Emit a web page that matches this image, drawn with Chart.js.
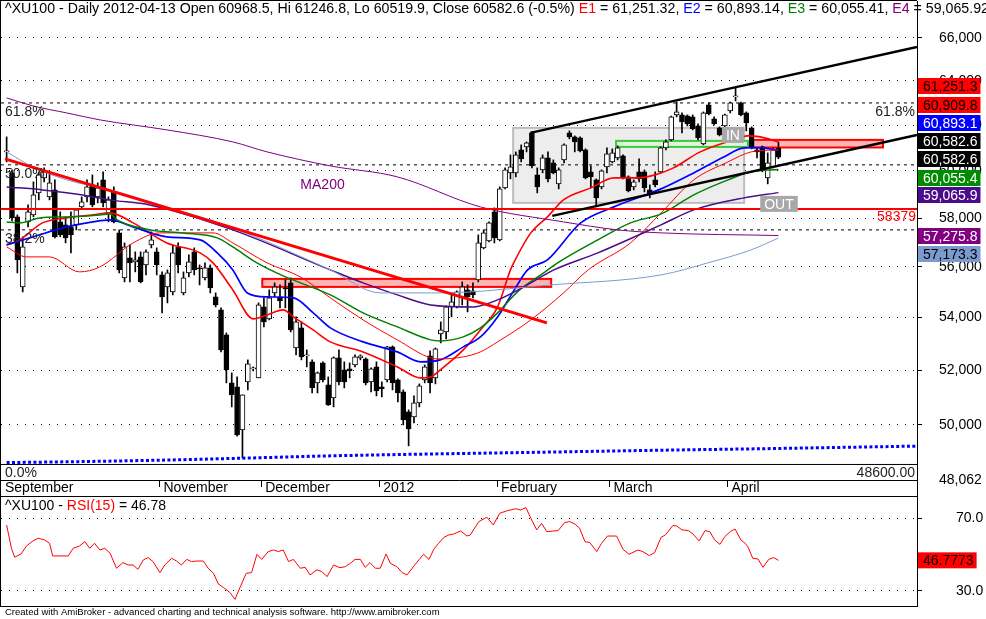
<!DOCTYPE html>
<html><head><meta charset="utf-8">
<script src="https://cdn.jsdelivr.net/npm/chart.js@4.4.1/dist/chart.umd.min.js"></script>
<style>
html,body{margin:0;padding:0;background:#fff;}
#wrap{position:relative;width:986px;height:619px;overflow:hidden;background:#fff;}
#c1{position:absolute;left:0;top:0;}
#c2{position:absolute;left:0;top:497px;}
</style></head><body>
<div id="wrap"><canvas id="c1" width="986" height="497"></canvas><canvas id="c2" width="986" height="122"></canvas></div>
<script>
// ---------------- DATA ----------------
const months = ['September','October','November','December','2012','February','March','April'];
const barsPerMonth = [8,21,19,22,22,21,22,10];

const open = [60817,59908,58047,55203,57839,58130,59055,59694,58886,59182,
57839,57714,57632,57714,58464,58886,59394,58886,59608,58213,
59097,57384,55561,56364,56202,56405,56081,56892,56607,55680,
55203,55005,56810,54966,55761,56607,55961,55561,55961,54808,
54300,53335,51530,51382,49821,51567,52050,51714,54417,53950,
54966,54808,55163,55362,52840,53603,52537,52312,51530,52274,
51456,50979,52462,52012,52050,52199,52462,52424,51567,52124,
51382,51640,52878,51640,51197,50469,50288,50796,51640,52537,
51714,53373,53450,54417,54417,54769,55084,55045,55481,56770,
57055,58255,57096,59267,59908,59908,60904,61035,61652,59822,
60037,60556,60339,59437,60469,61652,61475,61431,60904,59951,
59608,59309,60166,60382,60556,60643,59737,59309,59951,59951,
59182,59608,59951,60992,61343,62453,62453,62408,62363,61962,
61167,62902,62274,61873,61962,62632,63264,62992,62542,61873,
60904,61035,59694,60166,60968.5];
const high = [61475,60037,58130,57220,58548,59522,59951,60123,59951,59608,
58255,58047,58255,58380,58886,59608,59822,59480,59951,58886,
59309,57508,56973,56892,56607,56607,56688,57426,56770,55801,
55881,56892,56973,55801,56485,56770,56081,56162,56081,54966,
54378,53411,51901,51751,51088,52387,52125,54573,54769,55084,
55362,55282,55481,55561,54027,53834,52764,52387,51938,52312,
51751,52500,52764,52312,52274,52575,52575,52462,52087,52312,
51567,52900,52916,51680,51271,50541,51051,51493,52199,52726,
52840,53834,54456,54887,55045,55402,55282,55362,57302,57508,
57839,58423,59309,60123,60686,60817,61123,61255,61700,60123,
60686,60817,60469,60123,61167,61740,61519,61475,60950,60209,
59651,60037,60992,60948,61079,60686,59780,59608,60512,60037,
59394,59951,61035,61343,62400,63037,62542,62453,62453,62051,
62587,62992,62363,61917,62490,63030,63674,63030,62587,61917,
60992,61080,60773,60992,61246.8];
const low = [60382,57880,55760,55005,57632,58047,58759,59522,58759,57180,
57220,56973,56566,57508,58423,58674,58464,58633,58464,57839,
57797,55760,55402,55402,55801,55362,55680,56770,55680,54183,
54573,54887,55760,54887,55600,55680,55282,55481,54966,54417,
52689,51530,50650,49600,48830,51271,51975,51714,53641,53912,
54808,54378,54378,53450,52575,52387,52124,51160,51160,51567,
50700,50650,51456,51345,51714,52124,52387,51456,51197,51051,
51015,51567,51271,50832,50000,49253,50072,50650,51530,51160,
51493,53030,53182,54027,54378,54495,54222,54769,55402,56729,
57014,56973,57055,59224,59651,59737,60382,60817,60123,59055,
59908,59522,59865,59224,60339,61387,60817,60817,59651,59267,
58464,59224,59908,60339,60469,59651,59097,59182,59522,59097,
58844,59309,59900,60904,61299,62363,61652,61962,61785,61343,
61123,62453,62007,61519,61917,62542,63083,62408,61740,60948,
60556,59951,59437,60123,60519.9];
const close = [60860,58005,56283,56810,58255,58970,59822,59951,59480,57220,
57302,57180,57302,58339,58674,59309,58548,59267,58633,58759,
57839,55881,56810,56162,56283,55402,56607,57096,56081,54808,
55761,56566,56081,55561,56202,55881,55921,55961,55163,54495,
52764,52012,51088,49643,51088,52237,52087,54495,53834,54769,
55203,54652,55123,53526,53834,52500,52575,51345,51901,51640,
50722,52462,51567,51567,51975,52500,52537,51530,52050,51234,
51308,52878,51530,51160,50180,49857,50796,51419,52124,51530,
52802,53526,54417,54613,55005,55203,54808,54887,56973,57384,
57797,57180,59224,60037,60166,60686,60512,61211,60209,59309,
60556,59651,59908,60037,61123,61475,61255,60860,59694,59737,
58844,59994,60730,60773,60992,59694,59140,59522,59651,59267,
59055,59394,60992,61255,62363,62587,62140,62051,61829,61431,
62542,62498,62051,61563,62453,62992,63310,62453,62095,60992,
60817,59994,60339,60904,60582.6];

// moving averages: bar index where read, value
const e1Idx = [0,2.4,6.7,11.2,16.1,19.3,23.6,29.9,36.1,38.5,42.2,46,48.6,51.6,53.5,57.2,60.4,66.5,72.9,77.2,79.1,80.9,85.2,88.4,91.6,94,94.6,97.8,100.9,103.9,109,113.3,117.8,121,124.4,129.4,135.6,138.2,140.6,144];
const e1Val = [56892,57096,57797,58005,58130,58213,57797,56973,56566,56162,55084,53950,54105,54300,54027,53526,53068,52689,52124,51714,51751,52012,52764,53526,54417,55881,56162,57384,58047,58759,59267,59694,59694,59822,60123,60817,61343,61519,61475,61251.32];
const e2Idx = [0,4.9,11.2,16.1,19.3,23.6,29.9,36.1,39.3,42.2,44.9,48.6,53.5,57.2,60.4,66.5,72.9,77.2,80.9,85.2,88.4,91.6,94.6,97.2,100.9,107.1,113.3,122.1,128.2,133.8,137.6,140,144];
const e2Val = [56892,57220,57632,57839,57922,57632,57220,57096,56566,55881,54966,54808,54769,54183,53603,53068,52689,52312,52387,52878,53259,54027,55045,55881,56283,57797,58464,59224,59908,60599,60992,61000,60893.14];
const e3Idx = [0,2.4,6.2,11.2,17.4,19.3,20.6,26.7,32.9,39.3,42.2,46.7,51.6,60.4,66.5,72.9,79.1,80.9,85.2,88.4,91.6,95.3,100.2,102.8,110.3,116.4,122.1,128.2,134.6,138.9,144];
const e3Val = [57839,57797,58005,58047,58130,58172,57922,57508,57384,57180,56810,56162,55640,54887,54183,53641,53144,53106,53259,53603,54183,55005,55761,56162,57096,57797,58172,58970,59608,59951,60055.41];
const e4Idx = [0,6.7,14.2,19.3,26.7,42.2,60.4,66.5,72.9,79.1,87.1,91.6,97.8,102.1,110.3,122.1,128.2,137.6,144];
const e4Val = [59309,59182,58970,58759,58548,57508,55881,55362,54887,54495,54417,54691,55362,55881,56566,57714,58339,58844,59065.92];
const ma200Idx = [0,4.9,11.2,17.4,29.9,42.2,48.6,60.4,72.9,88.4,103.9,114,122.1,144];
const ma200Val = [63219,62857,62542,62229,61785,61255,60817,60209,59737,58464,57839,57508,57384,57275.8];
const slowIdx = [0,4.9,11.2,19.3,29.9,41.7,60.4,69.7,80.9,101.5,122.1,130.8,138.9,144];
const slowVal = [60817,60166,59608,59182,58464,57632,55881,54966,54966,55282,55680,56162,56688,57173.3];
const lagIdx = [0,3.7,8,13.6,17.4,23.6,28.6,32.9,38.5,42.2,48.6,54.8,60.4,66.5,72.9,79.1,80.9,85.2,88.4,91.6,97.8,103.9,108.5,116.4,122.1,128.2,134.6,138.9,144];
const lagVal = [56810,56405,56405,55801,56000,56973,57384,57384,57384,56973,56162,55600,54769,53912,53144,52462,52424,52500,52689,53068,53912,54966,55881,56973,58213,59608,60382,60817,60909.8];
const dotIdx = [0,10,20,31,44,60,80,100,122,140,169.8];
const dotVal = [48666,48690,48720,48760,48820,48900,48970,49030,49100,49150,49245];

// drawn studies
const fibLabels = ['61.8%','50.0%','38.2%','0.0%'];
const fibValues = [62990,60254,57508,48600];
const fibRightText = ['61.8%','','','48600.00'];
const supportValue = 58379;
const downTrendIdx = [-0.3,100.8];
const downTrendVal = [60512,53795];
const chanUpIdx = [97.7,169.85];
const chanUpVal = [61652,65576];
const chanLowIdx = [101.8,169.85];
const chanLowVal = [58088,61563];

const priceTicks = [48062,50000,52000,54000,56000,58000,60000,62000,64000,66000];

// RSI(15)
const rsiIdx = [0,0.9,1.5,2.7,3.7,4.9,5.9,7.1,8.0,8.6,11.5,12.4,13.6,14.6,15.5,16.4,17.4,18.3,19.3,20.5,21.7,22.7,23.6,24.5,25.5,26.4,27.3,28.6,29.5,30.8,31.7,32.6,33.6,34.5,35.5,36.7,37.6,38.6,39.5,40.4,41.7,42.6,43.6,44.7,45.7,46.7,47.6,48.8,49.8,50.7,51.6,52.6,53.5,54.8,55.7,56.6,57.9,58.8,59.8,61.0,62.2,63.2,64.1,65.0,66.0,66.9,67.8,68.8,69.7,70.8,71.6,72.8,73.8,74.7,76.0,76.9,77.8,78.8,79.7,80.6,81.6,82.5,83.4,84.7,85.9,86.5,88.1,89.6,90.8,92.0,93.4,95.0,95.9,96.9,97.8,98.9,99.8,100.8,102.1,102.9,104.1,105.0,106.0,106.9,107.9,108.8,110.1,111.0,112.1,113.8,115.0,116.1,117.8,118.7,119.9,120.9,122.1,122.9,124.3,125.0,126.0,127.2,128.1,129.2,130.3,131.2,132.1,133.1,134.0,135.0,135.9,137.0,137.8,138.3,139.2,140.2,141.1,142.2,143.1,144];
const rsiVal = [66.3,53.4,48.5,50.3,54.7,57.5,59.0,58.0,56.2,49.2,49.2,53.4,54.7,57.1,53.4,56.2,52.5,53.4,50.7,42.4,45.5,44.2,44.2,41.8,47.0,48.3,46.1,40.0,44.2,47.9,46.4,44.2,47.3,46.1,46.4,46.4,42.4,39.6,33.7,31.9,28.9,25.2,32.2,39.6,40.0,50.1,47.3,51.6,52.5,51.6,52.5,46.1,47.3,42.4,42.9,38.7,41.5,40.5,37.8,44.2,42.7,43.3,45.1,47.3,47.3,42.9,45.5,42.4,42.4,50.3,45.1,43.3,40.0,38.7,43.7,47.0,50.1,47.3,52.9,56.2,59.5,60.8,61.3,63.0,60.2,60.8,68.2,70.6,66.3,72.8,74.2,75.3,74.6,75.9,70.0,63.6,67.2,62.6,63.0,63.2,67.6,68.2,66.9,64.5,57.1,56.6,51.6,56.2,60.2,60.2,52.9,50.1,52.5,51.6,49.4,51.0,59.5,60.8,66.0,65.8,63.6,63.2,61.2,57.5,63.2,62.6,58.0,55.6,59.9,62.6,64.1,58.0,56.2,54.3,47.9,47.5,42.9,47.3,48.3,46.7773];
const rsiTicks = [30,70];

// ---------------- LAYOUT / STYLE ----------------
const X_MIN = -1.05, X_MAX = 169.85;
const FONT = 'Arial, "Liberation Sans", sans-serif';
Chart.defaults.font.family = FONT;
Chart.defaults.font.size = 14;
Chart.defaults.color = '#000';
Chart.defaults.animation = false;

const C = {red:'#ff0000', blue:'#0000ff', green:'#008c00', e4:'#4b0c8c', ma200:'#800080', slow:'#7b9bcf'};

const pts = (xs, vs) => xs.map((x, k) => ({x, y: vs[k]}));
const idx = close.map((_, i) => i);

// month ticks (first bar of month, hide labels that would collide)
const monthTicks = [];
{
  let start = 0, lastKept = -100;
  months.forEach((m, k) => {
    if (start - lastKept >= 12) {
      monthTicks.push({value: k === 0 ? X_MIN : start - 0.5, label: m, first: k === 0});
      lastKept = start;
    }
    start += barsPerMonth[k];
  });
}

const lineDs = (xs, vs, color, width, extra = {}) => Object.assign({
  type: 'line', data: pts(xs, vs), borderColor: color, borderWidth: width,
  pointRadius: 0, fill: false, cubicInterpolationMode: 'monotone', order: 10
}, extra);

const datasets = [
  {type:'bar', data: idx.map(i => ({x:i, y:[low[i], high[i]]})), backgroundColor:'#000',
   barThickness:1, grouped:false, borderWidth:0, borderSkipped:false, order:21},
  {type:'bar', data: idx.map(i => ({x:i, y:[open[i], close[i]]})),
   backgroundColor: idx.map(i => close[i] >= open[i] ? '#fff' : '#000'),
   borderColor:'#000', borderWidth:1, borderSkipped:false, barThickness:5, minBarLength:1,
   grouped:false, order:20},
  ...fibValues.map((v, k) => lineDs([X_MIN, X_MAX], [v, v], '#000', 1,
      {borderDash: fibLabels[k] === '0.0%' ? [] : [3,4], order: 22})),
  lineDs(dotIdx, dotVal, C.blue, 3, {borderDash:[3,2.36], order: 15}),
  lineDs(slowIdx, slowVal, C.slow, 1),
  lineDs(ma200Idx, ma200Val, C.ma200, 1),
  lineDs(e4Idx, e4Val, C.e4, 1.5),
  lineDs(e3Idx, e3Val, '#008000', 1.5),
  lineDs(lagIdx, lagVal, C.red, 1),
  lineDs(e2Idx, e2Val, C.blue, 1.7),
  lineDs(e1Idx, e1Val, C.red, 1.6),
  lineDs([X_MIN, X_MAX], [supportValue, supportValue], C.red, 2, {order: 3}),
  lineDs(downTrendIdx, downTrendVal, C.red, 3, {order: 2}),
  lineDs(chanUpIdx, chanUpVal, '#000', 2.5, {order: 2}),
  lineDs(chanLowIdx, chanLowVal, '#000', 2.5, {order: 2}),
];

// annotation boxes (data coordinates)
const grayBox  = {from: 94.5, to: 137.6, top: 61873, bottom: 58633};
const greenBox = {from: 113.7, to: 138.3, top: 61299, bottom: 61035};
const redBoxA  = {from: 47.7, to: 101.6, top: 55521, bottom: 55203};
const redBoxB  = {from: 139.1, to: 163.5, top: 61343, bottom: 61010};
const inTag  = {x: 135.5, v: 61563, text: 'IN'};
const outTag = {x: 144.1, v: 58590, text: 'OUT'};
const maText = {x: 54.8, v: 59394, text: 'MA200'};

const titleParts = [
  ['^XU100 - Daily 2012-04-13 Open 60968.5, Hi 61246.8, Lo 60519.9, Close 60582.6 (-0.5%) ', '#000'],
  ['E1', C.red], [' = 61,251.32, ', '#000'], ['E2', C.blue], [' = 60,893.14, ', '#000'],
  ['E3', '#008000'], [' = 60,055.41, ', '#000'], ['E4', '#800080'], [' = 59,065.92', '#000']
];

const fmt1 = v => v.toLocaleString('en-US', {minimumFractionDigits:1, maximumFractionDigits:1});
const lastOf = a => a[a.length - 1];
const tags = [
  {v: lastOf(e1Val), bg: C.red, fg: '#000'},
  {v: lastOf(lagVal), bg: C.red, fg: '#000'},
  {v: lastOf(e2Val), bg: C.blue, fg: '#fff'},
  {v: lastOf(close), bg: '#000', fg: '#fff'},
  {v: lastOf(close), bg: '#000', fg: '#fff'},
  {v: lastOf(e3Val), bg: C.green, fg: '#fff'},
  {v: lastOf(e4Val), bg: C.e4, fg: '#fff'},
  {v: lastOf(ma200Val), bg: C.ma200, fg: '#fff'},
  {v: lastOf(slowVal), bg: C.slow, fg: '#000'},
];
const tagSlotY = [86,105,123,141,159,178,195,236,254];

function hline(ctx, x0, x1, y, color = '#000', w = 1) {
  ctx.save(); ctx.strokeStyle = color; ctx.lineWidth = w; ctx.beginPath();
  ctx.moveTo(x0, y); ctx.lineTo(x1, y); ctx.stroke(); ctx.restore();
}
function vline(ctx, x, y0, y1, color = '#000', w = 1) {
  ctx.save(); ctx.strokeStyle = color; ctx.lineWidth = w; ctx.beginPath();
  ctx.moveTo(x, y0); ctx.lineTo(x, y1); ctx.stroke(); ctx.restore();
}
function tagBox(ctx, x, yc, text, bg, fg) {
  ctx.save();
  ctx.font = '14px ' + FONT;
  const tw = ctx.measureText(text).width;
  ctx.fillStyle = bg; ctx.fillRect(x, yc - 8, tw + 8, 16);
  ctx.fillStyle = fg; ctx.textBaseline = 'middle'; ctx.textAlign = 'left';
  ctx.fillText(text, x + 5, yc + 1);
  ctx.restore();
}

const mainDecor = {
  id: 'mainDecor',
  beforeDatasetsDraw(chart) {
    const {ctx, scales: {x, y}} = chart;
    const box = (b, fill, stroke, lw) => {
      const x0 = x.getPixelForValue(b.from), x1 = x.getPixelForValue(b.to);
      const y0 = y.getPixelForValue(b.top), y1 = y.getPixelForValue(b.bottom);
      ctx.save();
      ctx.fillStyle = fill; ctx.fillRect(x0, y0, x1 - x0, y1 - y0);
      ctx.lineWidth = lw; ctx.strokeStyle = stroke; ctx.strokeRect(x0, y0, x1 - x0, y1 - y0);
      ctx.restore();
    };
    box(grayBox, '#ededed', '#bdbdbd', 2);
    box(greenBox, '#e2f4da', '#3cc83c', 2);
    box(redBoxA, '#ffb4b4', C.red, 2);
    box(redBoxB, '#ffb4b4', C.red, 2);
  },
  afterDatasetsDraw(chart) {
    const {ctx, scales: {x, y}, chartArea: a} = chart;
    ctx.save();
    ctx.font = '14px ' + FONT;
    ctx.textBaseline = 'middle';
    fibValues.forEach((v, k) => {
      const py = y.getPixelForValue(v) + 9;
      ctx.fillStyle = '#222'; ctx.textAlign = 'left';
      ctx.fillText(fibLabels[k], 5, py);
      if (fibRightText[k]) { ctx.textAlign = 'right'; ctx.fillText(fibRightText[k], a.right - 2, py); }
    });
    ctx.fillStyle = C.red; ctx.textAlign = 'right';
    ctx.fillText(String(supportValue), a.right - 1, y.getPixelForValue(supportValue) + 8);
    ctx.fillStyle = C.ma200; ctx.textAlign = 'left';
    ctx.fillText(maText.text, x.getPixelForValue(maText.x), y.getPixelForValue(maText.v));
    [inTag, outTag].forEach(t => {
      const tw = ctx.measureText(t.text).width;
      const cx = x.getPixelForValue(t.x), cy = y.getPixelForValue(t.v);
      ctx.fillStyle = '#a8a8a8'; ctx.fillRect(cx - tw / 2 - 4, cy - 8, tw + 8, 16);
      ctx.fillStyle = '#fff'; ctx.textAlign = 'center'; ctx.fillText(t.text, cx, cy + 1);
    });
    ctx.restore();
  },
  afterDraw(chart) {
    const {ctx, chartArea: a} = chart;
    hline(ctx, 0, a.right, 0.5);
    vline(ctx, 0.5, 0, 497);
    hline(ctx, 0, a.right + 1, 496.5);
    vline(ctx, a.right + 0.5, a.bottom, 497);
    ctx.save();
    ctx.font = '14.2px ' + FONT; ctx.textBaseline = 'middle'; ctx.textAlign = 'left';
    let tx = 5;
    titleParts.forEach(([s, c]) => { ctx.fillStyle = c; ctx.fillText(s, tx, 9); tx += ctx.measureText(s).width; });
    ctx.restore();
    tags.forEach((t, k) => tagBox(ctx, a.right + 1, tagSlotY[k], fmt1(t.v), t.bg, t.fg));
  }
};

new Chart(document.getElementById('c1'), {
  type: 'bar',
  data: {datasets},
  options: {
    responsive: false, animation: false, devicePixelRatio: 1,
    layout: {padding: {left: 1, top: 1, right: 2, bottom: 0}},
    plugins: {legend: {display: false}, tooltip: {enabled: false}},
    events: [],
    scales: {
      x: {
        type: 'linear', min: X_MIN, max: X_MAX, offset: false, position: 'bottom',
        afterBuildTicks: s => { s.ticks = monthTicks.map(t => ({value: t.value})); },
        afterFit: s => { s.height = 17; s.paddingLeft = 0; s.paddingRight = 0; },
        ticks: {autoSkip: false, maxRotation: 0, minRotation: 0, align: 'start', labelOffset: 4,
                padding: -7, font: {size: 14}, color: '#000',
                callback: (v, i) => monthTicks[i] ? monthTicks[i].label : ''},
        grid: {drawOnChartArea: false, drawTicks: true, tickLength: 7, offset: false,
               color: ctx => (monthTicks[ctx.index] && monthTicks[ctx.index].first) ? 'rgba(0,0,0,0)' : '#000'},
        border: {display: true, color: '#000', width: 1}
      },
      y: {
        type: 'logarithmic', position: 'right', min: 48062, max: 67770,
        afterBuildTicks: s => { s.ticks = priceTicks.map(v => ({value: v})); },
        afterFit: s => { s.width = 67; s.paddingTop = 0; s.paddingBottom = 0; },
        ticks: {autoSkip: false, padding: 17, crossAlign: 'near', font: {size: 14}, color: '#000',
                callback: v => Number(v).toLocaleString('en-US')},
        grid: {drawTicks: true, tickLength: 5, lineWidth: 1, tickBorderDash: [],
               color: ctx => (ctx.tick && ctx.tick.value === priceTicks[0]) ? 'rgba(0,0,0,0)' : '#000'},
        border: {display: true, color: '#000', width: 1, dash: [1,7]}
      }
    }
  },
  plugins: [mainDecor]
});

// ---------------- RSI panel ----------------
const rsiDecor = {
  id: 'rsiDecor',
  afterDraw(chart) {
    const {ctx, chartArea: a, scales: {y}} = chart;
    vline(ctx, 0.5, 0, a.bottom);
    hline(ctx, 0, a.right + 1, a.bottom + 0.5);
    ctx.save();
    ctx.font = '14px ' + FONT; ctx.textBaseline = 'middle'; ctx.textAlign = 'left';
    const last = lastOf(rsiVal);
    const parts = [['^XU100 - ', '#000'], ['RSI(15)', C.red], [' = ' + last.toFixed(2), '#000']];
    let tx = 5;
    parts.forEach(([s, c]) => { ctx.fillStyle = c; ctx.fillText(s, tx, 9); tx += ctx.measureText(s).width; });
    ctx.font = '9.5px ' + FONT; ctx.fillStyle = '#000';
    ctx.fillText('Created with AmiBroker - advanced charting and technical analysis software. http://www.amibroker.com', 5, 115);
    ctx.restore();
    tagBox(ctx, a.right + 1, y.getPixelForValue(last), last.toFixed(4), C.red, '#000');
  }
};

new Chart(document.getElementById('c2'), {
  type: 'line',
  data: {datasets: [{data: pts(rsiIdx, rsiVal), borderColor: C.red, borderWidth: 1, pointRadius: 0, fill: false, tension: 0}]},
  options: {
    responsive: false, animation: false, devicePixelRatio: 1,
    layout: {padding: {left: 1, top: 0, right: 2, bottom: 13}},
    plugins: {legend: {display: false}, tooltip: {enabled: false}},
    events: [],
    scales: {
      x: {type: 'linear', min: X_MIN, max: X_MAX, display: false},
      y: {
        type: 'linear', position: 'right', min: 21.55, max: 81.77,
        afterBuildTicks: s => { s.ticks = rsiTicks.map(v => ({value: v})); },
        afterFit: s => { s.width = 67; s.paddingTop = 0; s.paddingBottom = 0; },
        ticks: {autoSkip: false, padding: 34, crossAlign: 'near', font: {size: 14}, color: '#000',
                callback: v => Number(v).toFixed(1)},
        grid: {drawTicks: true, tickLength: 5, color: '#000', tickBorderDash: []},
        border: {display: true, color: '#000', width: 1, dash: [1,7]}
      }
    }
  },
  plugins: [rsiDecor]
});
</script>
</body></html>
